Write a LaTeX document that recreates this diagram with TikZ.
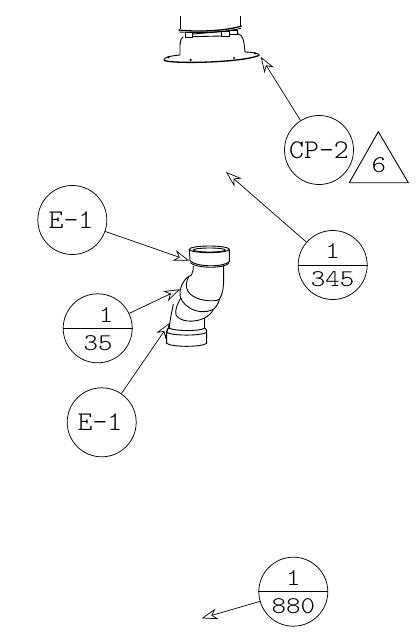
\documentclass[tikz,border=0pt]{standalone}
\usepackage{tikz}
\usetikzlibrary{arrows.meta}

\tikzset{
  tag/.style={circle,draw,line width=0.75pt,minimum size=69pt,inner sep=0pt},
  tagtxt/.style={font=\fontseries{l}\ttfamily\fontsize{24}{24}\selectfont,inner sep=0pt,xscale=1.15},
  lettertxt/.style={font=\fontseries{l}\ttfamily\fontsize{27}{27}\selectfont,inner sep=0pt,xscale=1.05},
  leader/.style={line width=0.7pt,-{Stealth[open,length=16pt,width=11pt,inset=5pt,line width=0.7pt]}},
  part/.style={line width=0.9pt},
}

\begin{document}
\begin{tikzpicture}[x=1pt,y=-1pt]
\useasboundingbox (0,0) rectangle (417,634);

% Flange
\begin{scope}[shift={(140,0)},x=0.3333pt,y=-0.3333pt,part]
\draw (120,48) -- (120,88);
\draw (302,48) -- (302,82);
\draw[line width=1.3pt] (115,90) .. controls (180,97) and (260,92) .. (305,78);
\draw (118,96) .. controls (180,100) and (260,96) .. (303,85);
\draw (135,96) rectangle (158,112);
\draw (245,93) rectangle (268,110);
\draw (268,92) rectangle (292,102);
\draw (158,102) -- (245,95);
\draw (158,110) -- (245,108);
\draw (130,110) .. controls (118,115) and (120,140) .. (120,165);
\draw (292,100) .. controls (312,105) and (312,130) .. (315,156);
\draw (120,165) .. controls (90,168) and (72,172) .. (72,180);
\draw (315,156) .. controls (340,157) and (358,160) .. (358,166);
\draw[line width=1.3pt] (72,180) .. controls (75,192) and (300,190) .. (358,166);
\fill (85,172) circle (1.2pt);
\fill (152,180) circle (1.2pt);
\fill (282,174) circle (1.2pt);
\fill (345,160) circle (1.2pt);
\end{scope}

% Elbow
\begin{scope}[shift={(130,230)},x=0.3333pt,y=-0.3333pt,part]
\draw (238,58) ellipse (60 and 10);
\draw (238,60) ellipse (48 and 6);
\draw (178,58) -- (180,92) .. controls (200,112) and (280,112) .. (298,95) -- (298,58);
\draw (181,98) .. controls (200,116) and (280,116) .. (297,100);
\draw (190,108) .. controls (190,120) and (188,128) .. (184,136);
\draw (281,108) .. controls (280,150) and (285,180) .. (268,208);
\draw (184,136) .. controls (165,140) and (150,170) .. (150,188);
\draw (176,140) .. controls (160,170) and (170,200) .. (220,210) .. controls (245,215) and (262,212) .. (268,208);
\draw (150,188) .. controls (145,220) and (200,262) .. (250,238) .. controls (258,232) and (266,220) .. (268,208);
\draw (152,205) .. controls (140,225) and (135,240) .. (138,255) .. controls (150,275) and (190,280) .. (224,264) .. controls (235,258) and (245,250) .. (250,238);
\draw (130,222) .. controls (125,250) and (120,265) .. (118,295);
\draw (224,264) -- (224,295);
\draw (118,293) .. controls (112,296) and (110,300) .. (110,305) -- (110,340) .. controls (125,352) and (215,352) .. (230,340) -- (230,305) .. controls (230,300) and (228,296) .. (224,293);
\draw (110,307) .. controls (125,318) and (215,318) .. (230,307);
\draw (118,295) .. controls (140,304) and (205,304) .. (224,295);
\end{scope}

% Tags
\node[tag] (cp2) at (319,150) {};
\node[lettertxt] (cp2txt) at (319,150) {CP-2};
\node[tag] (sec345) at (332.7,265) {};
\node[tag] (e1top) at (72.3,220) {};
\node[lettertxt] (e1toptxt) at (71,220) {E-1};
\node[tag] (sec35) at (97.7,328.3) {};
\node[tag] (e1low) at (101.7,422.3) {};
\node[lettertxt] (e1lowtxt) at (100,422.3) {E-1};
\node[tag] (sec880) at (293.3,591.7) {};

% Section tags
\draw[part] (sec345.west) -- (sec345.east);
\node[tagtxt] (sec345a) at (332.7,251.5) {1};
\node[tagtxt] (sec345b) at (332.7,279) {345};
\draw[part] (sec35.west) -- (sec35.east);
\node[tagtxt] (sec35a) at (106,315) {1};
\node[tagtxt] (sec35b) at (98,343) {35};
\draw[part] (sec880.west) -- (sec880.east);
\node[tagtxt] (sec880a) at (293.3,578) {1};
\node[tagtxt] (sec880b) at (293.3,606) {880};

% Triangle
\coordinate (tria) at (378.3,131.7);
\coordinate (trib) at (349.3,182.7);
\coordinate (tric) at (408.3,182.7);
\draw[part] (tria) -- (trib) -- (tric) -- cycle;
\node[tagtxt] (trinum) at (378.8,165.5) {6};

% Arrows
\coordinate (cp2tip) at (260.7,56.7);
\coordinate (sec345tip) at (226,172);
\coordinate (e1toptip) at (189.3,260.7);
\coordinate (sec35tip) at (180,289.3);
\coordinate (e1lowtip) at (170,322.7);
\coordinate (sec880tip) at (201.7,618.3);
\draw[leader] (cp2) -- (cp2tip);
\draw[leader] (sec345) -- (sec345tip);
\draw[leader] (e1top) -- (e1toptip);
\draw[leader] (sec35) -- (sec35tip);
\draw[leader] (e1low) -- (e1lowtip);
\draw[leader] (sec880) -- (sec880tip);
\end{tikzpicture}
\end{document}
